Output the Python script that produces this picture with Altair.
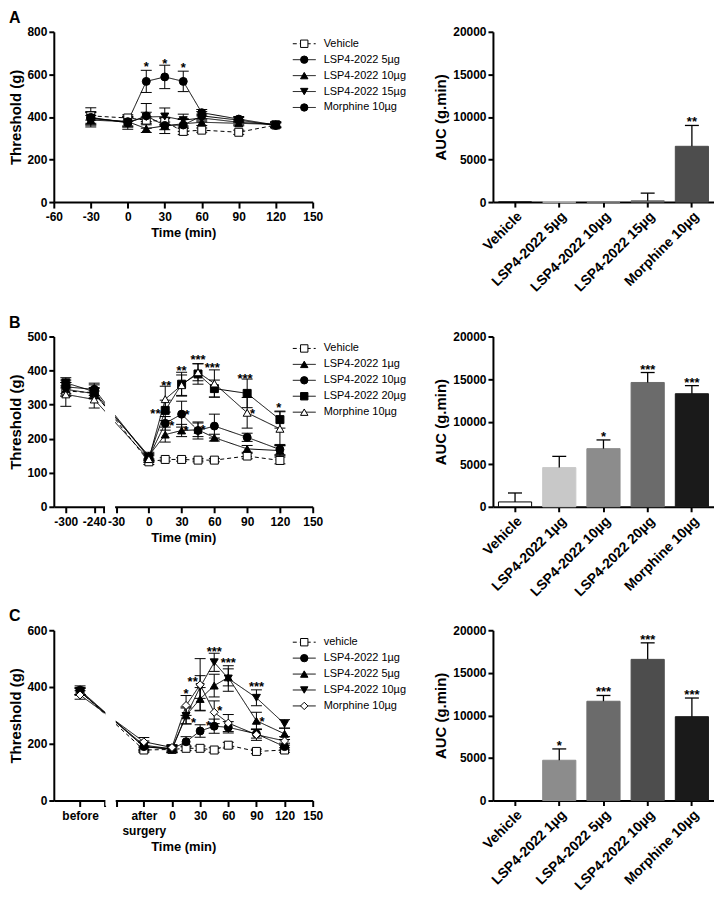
import altair as alt
import pandas as pd

FONT = "Liberation Sans"
W_LINE = 260
H = 171
W_BAR = 222

# ---------------- Panel A ----------------
A_times = [-30, 0, 15, 30, 45, 60, 90, 120]
A_series = ["Vehicle", "LSP4-2022 5µg", "LSP4-2022 10µg", "LSP4-2022 15µg", "Morphine 10µg"]
A_vehicle = [405, 395, 385, 378, 332, 338, 328, 362]
A_vehicle_err = [20, 15, 15, 15, 15, 10, 10, 10]
A_lsp5 = [398, 372, 405, 360, 362, 405, 385, 360]
A_lsp5_err = [45, 30, 58, 38, 30, 20, 12, 12]
A_lsp10 = [385, 378, 345, 358, 368, 375, 370, 365]
A_lsp10_err = [22, 20, 18, 18, 20, 15, 12, 12]
A_lsp15 = [395, 375, 400, 402, 385, 395, 375, 365]
A_lsp15_err = [25, 22, 22, 40, 28, 18, 12, 12]
A_morphine = [392, 378, 567, 588, 567, 420, 390, 362]
A_morphine_err = [30, 25, 52, 55, 48, 15, 12, 12]
A_shapes = ["square", "circle", "triangle-up", "triangle-down", "circle"]
A_fills = ["white", "black", "black", "black", "black"]
A_star_t = [15, 30, 45]
A_star_v = [614, 632, 612]
A_star_txt = ["*", "*", "*"]
A_x_ticks = [-60, -30, 0, 30, 60, 90, 120, 150]
A_y_ticks = [0, 200, 400, 600, 800]

A_bar_cats = ["Vehicle", "LSP4-2022 5µg", "LSP4-2022 10µg", "LSP4-2022 15µg", "Morphine 10µg"]
A_auc = [0, 0, 0, 150, 6550]
A_auc_err = [0, 0, 0, 900, 2450]
A_auc_star = ["", "", "", "", "**"]
A_bar_fill = ["#ffffff", "#c8c8c8", "#8c8c8c", "#6b6b6b", "#4d4d4d"]

# ---------------- Panel B ----------------
B_times = [-300, -240, 0, 15, 30, 45, 60, 90, 120]
B_series = ["Vehicle", "LSP4-2022 1µg", "LSP4-2022 10µg", "LSP4-2022 20µg", "Morphine 10µg"]
B_vehicle = [340, 335, 132, 139, 139, 137, 137, 149, 136]
B_vehicle_err = [15, 15, 8, 5, 5, 5, 5, 8, 10]
B_lsp1 = [345, 332, 150, 212, 224, 226, 203, 170, 165]
B_lsp1_err = [20, 15, 10, 22, 18, 20, 10, 10, 15]
B_lsp10 = [352, 345, 145, 245, 272, 224, 237, 204, 168]
B_lsp10_err = [20, 18, 10, 20, 38, 25, 35, 12, 15]
B_lsp20 = [364, 338, 145, 283, 360, 390, 347, 333, 256]
B_lsp20_err = [15, 20, 10, 30, 35, 30, 25, 42, 25]
B_morphine = [330, 315, 140, 316, 357, 395, 362, 276, 229]
B_morphine_err = [35, 25, 10, 38, 30, 25, 40, 45, 50]
B_shapes = ["square", "triangle-up", "circle", "square", "triangle-up"]
B_fills = ["white", "black", "black", "black", "white"]
B_star_t = [16, 6, 21, 30, 35, 34, 45, 49.5, 58, 88, 95, 119]
B_star_v = [343, 260, 224, 386, 257, 210, 420, 215, 397, 364, 260, 279]
B_star_txt = ["**", "**", "*", "**", "*", "*", "***", "*", "***", "***", "*", "*"]
B_x_ticks = [-76, -50, -41, -30, 0, 30, 60, 90, 120, 150]
B_y_ticks = [0, 100, 200, 300, 400, 500]

B_bar_cats = ["Vehicle", "LSP4-2022 1µg", "LSP4-2022 10µg", "LSP4-2022 20µg", "Morphine 10µg"]
B_auc = [570, 4600, 6830, 14600, 13280]
B_auc_err = [1050, 1320, 1020, 1170, 950]
B_auc_star = ["", "", "*", "***", "***"]
B_bar_fill = ["#ffffff", "#c8c8c8", "#8c8c8c", "#6b6b6b", "#1a1a1a"]

# ---------------- Panel C ----------------
C_times = ["before", "after surgery", 0, 15, 30, 45, 60, 90, 120]
C_series = ["vehicle", "LSP4-2022 1µg", "LSP4-2022 5µg", "LSP4-2022 10µg", "Morphine 10µg"]
C_vehicle = [385, 178, 180, 184, 184, 178, 195, 173, 178]
C_vehicle_err = [12, 8, 8, 8, 8, 8, 10, 8, 8]
C_lsp1 = [389, 190, 182, 207, 245, 262, 258, 235, 190]
C_lsp1_err = [15, 15, 12, 18, 22, 25, 20, 15, 12]
C_lsp5 = [383, 195, 182, 300, 358, 405, 434, 281, 235]
C_lsp5_err = [12, 15, 12, 30, 40, 40, 30, 30, 20]
C_lsp10 = [385, 190, 180, 298, 400, 487, 430, 362, 270]
C_lsp10_err = [12, 15, 12, 28, 40, 32, 45, 28, 15]
C_morphine = [372, 207, 187, 335, 408, 311, 273, 232, 210]
C_morphine_err = [15, 15, 10, 35, 92, 40, 30, 20, 15]
C_shapes = ["square", "circle", "triangle-up", "triangle-down", "diamond"]
C_fills = ["white", "black", "black", "black", "white"]
C_star_t = [15, 22, 23, 45, 60, 51, 39, 90, 96]
C_star_v = [363, 403, 258, 511, 471, 300, 249, 386, 264]
C_star_txt = ["*", "**", "*", "***", "***", "*", "*", "***", "*"]
C_x_ticks = [-98, -72, -59, -30, 0, 30, 60, 90, 120, 150]
C_y_ticks = [0, 200, 400, 600]

C_bar_cats = ["Vehicle", "LSP4-2022 1µg", "LSP4-2022 5µg", "LSP4-2022 10µg", "Morphine 10µg"]
C_auc = [0, 4730, 11660, 16580, 9850]
C_auc_err = [0, 1330, 680, 1940, 2190]
C_auc_star = ["", "*", "***", "***", "***"]
C_bar_fill = ["#ffffff", "#8c8c8c", "#6b6b6b", "#4d4d4d", "#1a1a1a"]

DASHES = [[4, 3], [1, 0], [1, 0], [1, 0], [1, 0]]


# broken-axis position maps
def pos_B(t):
    return -76 + (t + 300) * 26 / 60 if t < -30 else t


def pos_C(t):
    return {"before": -98, "after surgery": -30}.get(t, t)


def line_panel(series, pos, means, errs, shapes, fills, ytop, yticks, xdom, xticks,
               label_expr, star_t, star_v, star_txt, gap=None):
    rows = []
    for s, m, e in zip(series, means, errs):
        for p, mv, ev in zip(pos, m, e):
            rows.append({"series": s, "p": p, "mean": mv, "lo": mv - ev, "hi": mv + ev})
    df = pd.DataFrame(rows)
    caps = pd.concat([df.assign(cap=df["lo"]), df.assign(cap=df["hi"])])
    xs = alt.Scale(domain=xdom, nice=False, zero=False)
    ys = alt.Scale(domain=[0, ytop], nice=False, zero=False)
    dash = alt.StrokeDash("series:N", scale=alt.Scale(domain=series, range=DASHES), legend=None)
    shape = alt.Shape("series:N", scale=alt.Scale(domain=series, range=shapes), legend=None)
    fill = alt.Fill("series:N", scale=alt.Scale(domain=series, range=fills), legend=None)
    xaxis = alt.Axis(values=xticks, labelExpr=label_expr, labelOverlap=False, labelFlush=False,
                     title="Time (min)", titleFontSize=13, titlePadding=4, zindex=0,
                     labelPadding=4, labelLineHeight=15, tickSize=6)
    yaxis = alt.Axis(values=yticks, title="Threshold (g)", titleFontSize=15, titlePadding=3,
                     zindex=0, labelPadding=2)
    X = lambda f: alt.X(f, scale=xs, axis=xaxis)
    Y = lambda f: alt.Y(f, scale=ys, axis=yaxis)

    layers = [alt.Chart(df).mark_line(color="black", strokeWidth=1).encode(
        x=X("p:Q"), y=Y("mean:Q"), detail="series:N", strokeDash=dash)]
    if gap:
        gdf = pd.DataFrame({"p": [gap[0]], "g2": [gap[1]], "mean": [ytop], "b": [-0.03 * ytop]})
        layers.append(alt.Chart(gdf).mark_rect(color="white").encode(
            x=X("p:Q"), x2="g2:Q", y=Y("mean:Q"), y2="b:Q"))
    layers.append(alt.Chart(df).mark_rule(color="black", strokeWidth=1).encode(
        x=X("p:Q"), y=Y("lo:Q"), y2="hi:Q"))
    layers.append(alt.Chart(caps).mark_point(shape="M-1,0L1,0", size=121, stroke="black",
                                             strokeWidth=1, filled=False, opacity=1).encode(
        x=X("p:Q"), y=Y("cap:Q")))
    layers.append(alt.Chart(df).mark_point(filled=True, size=64, stroke="black",
                                           strokeWidth=1, opacity=1).encode(
        x=X("p:Q"), y=Y("mean:Q"), shape=shape, fill=fill))
    sdf = pd.DataFrame({"p": star_t, "mean": star_v, "txt": star_txt})
    layers.append(alt.Chart(sdf).mark_text(font=FONT, fontSize=13, fontWeight="bold",
                                           baseline="alphabetic", color="black").encode(
        x=X("p:Q"), y=Y("mean:Q"), text="txt:N"))
    # legend
    upp = ytop / H
    ldf = pd.DataFrame({"series": series,
                        "mean": [ytop - (12 + 16 * i) * upp for i in range(len(series))]})
    layers.append(alt.Chart(ldf).mark_rule(color="black", strokeWidth=1).encode(
        x=alt.value(240), x2=alt.value(263), y=Y("mean:Q"), strokeDash=dash))
    layers.append(alt.Chart(ldf).mark_point(filled=True, size=55, stroke="black",
                                            strokeWidth=1, opacity=1).encode(
        x=alt.value(251.5), y=Y("mean:Q"), shape=shape, fill=fill))
    layers.append(alt.Chart(ldf).mark_text(font=FONT, fontSize=11, align="left",
                                           baseline="middle", color="black").encode(
        x=alt.value(271), y=Y("mean:Q"), text="series:N"))
    return alt.layer(*layers).properties(width=W_LINE, height=H)


def bar_panel(cats, vals, errs, stars, fills):
    df = pd.DataFrame({"cat": cats, "val": vals, "err": errs,
                       "top": [v + e for v, e in zip(vals, errs)], "star": stars})
    strokes = ["black"] + fills[1:]
    xs = alt.Scale(domain=cats, paddingInner=0.25, paddingOuter=0.125)
    ys = alt.Scale(domain=[0, 20000], nice=False)
    xaxis = alt.Axis(title=None, labelAngle=-45, labelPadding=2, zindex=0, labelFontSize=14,
                     labelLimit=300)
    yaxis = alt.Axis(values=[0, 5000, 10000, 15000, 20000], format="d", title="AUC (g.min)",
                     titleFontSize=15, titlePadding=4, labelPadding=2, zindex=0)
    X = lambda: alt.X("cat:N", scale=xs, sort=cats, axis=xaxis)
    Y = lambda f: alt.Y(f, scale=ys, axis=yaxis)
    bars = alt.Chart(df).mark_bar(strokeWidth=1).encode(
        x=X(), y=Y("val:Q"),
        fill=alt.Fill("cat:N", scale=alt.Scale(domain=cats, range=fills), legend=None),
        stroke=alt.Stroke("cat:N", scale=alt.Scale(domain=cats, range=strokes), legend=None))
    e = alt.Chart(df).transform_filter("datum.err > 0")
    rules = e.mark_rule(color="black", strokeWidth=1.3).encode(x=X(), y=Y("val:Q"), y2="top:Q")
    caps = e.mark_point(shape="M-1,0L1,0", size=196, stroke="black", strokeWidth=1.3,
                        filled=False, opacity=1).encode(x=X(), y=Y("top:Q"))
    st = alt.Chart(df).mark_text(font=FONT, fontSize=13, fontWeight="bold",
                                 baseline="alphabetic", dy=1, color="black").encode(
        x=X(), y=Y("top:Q"), text="star:N")
    return alt.layer(bars, rules, caps, st).properties(width=W_BAR, height=H)


lineA = line_panel(A_series, A_times,
                   [A_vehicle, A_lsp5, A_lsp10, A_lsp15, A_morphine],
                   [A_vehicle_err, A_lsp5_err, A_lsp10_err, A_lsp15_err, A_morphine_err],
                   A_shapes, A_fills, 800, A_y_ticks, [-60, 150], A_x_ticks,
                   "'' + datum.value", A_star_t, A_star_v, A_star_txt)
lineB = line_panel(B_series, [pos_B(t) for t in B_times],
                   [B_vehicle, B_lsp1, B_lsp10, B_lsp20, B_morphine],
                   [B_vehicle_err, B_lsp1_err, B_lsp10_err, B_lsp20_err, B_morphine_err],
                   B_shapes, B_fills, 500, B_y_ticks, [-87, 150], B_x_ticks,
                   "datum.value == -76 ? '-300' : datum.value == -50 ? '-240' : "
                   "datum.value == -41 ? '' : '' + datum.value",
                   B_star_t, B_star_v, B_star_txt, gap=(-40.1, -30.9))
lineC = line_panel(C_series, [pos_C(t) for t in C_times],
                   [C_vehicle, C_lsp1, C_lsp5, C_lsp10, C_morphine],
                   [C_vehicle_err, C_lsp1_err, C_lsp5_err, C_lsp10_err, C_morphine_err],
                   C_shapes, C_fills, 600, C_y_ticks, [-126, 150], C_x_ticks,
                   "datum.value == -98 ? 'before' : datum.value == -30 ? ['after', 'surgery'] : "
                   "(datum.value == -72 || datum.value == -59) ? '' : '' + datum.value",
                   C_star_t, C_star_v, C_star_txt, gap=(-71, -60))

barA = bar_panel(A_bar_cats, A_auc, A_auc_err, A_auc_star, A_bar_fill)
barB = bar_panel(B_bar_cats, B_auc, B_auc_err, B_auc_star, B_bar_fill)
barC = bar_panel(C_bar_cats, C_auc, C_auc_err, C_auc_star, C_bar_fill)

IND = dict(fill="independent", shape="independent", strokeDash="independent",
           stroke="independent")


def row(line, bar, letter):
    return alt.hconcat(line, bar, spacing=27).resolve_scale(**IND).properties(
        title=alt.TitleParams(letter, anchor="start", fontSize=16, fontWeight="bold",
                              font=FONT, offset=0, color="black"))


chart = alt.vconcat(
    alt.vconcat(row(lineA, barA, "A"), row(lineB, barB, "B"), spacing=20).resolve_scale(**IND),
    row(lineC, barC, "C"), spacing=9,
).resolve_scale(**IND).properties(
    padding={"left": 0, "top": 0, "right": 0, "bottom": 6}
).configure(font=FONT).configure_view(stroke=None).configure_axis(
    domainColor="black", domainWidth=2, tickColor="black", tickWidth=2, tickSize=5,
    labelColor="black", titleColor="black", labelFont=FONT, titleFont=FONT,
    labelFontWeight="bold", titleFontWeight="bold", labelFontSize=12, grid=False)

chart.save("out.html", embed_options={"renderer": "svg", "actions": False})
